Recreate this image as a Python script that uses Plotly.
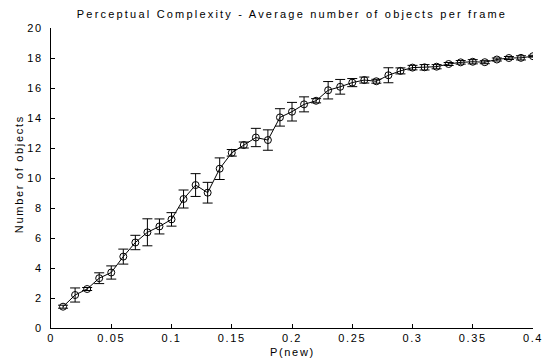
import plotly.graph_objects as go

p_new = [0.01, 0.02, 0.03, 0.04, 0.05, 0.06, 0.07, 0.08, 0.09, 0.10,
         0.11, 0.12, 0.13, 0.14, 0.15, 0.16, 0.17, 0.18, 0.19, 0.20,
         0.21, 0.22, 0.23, 0.24, 0.25, 0.26, 0.27, 0.28, 0.29, 0.30,
         0.31, 0.32, 0.33, 0.34, 0.35, 0.36, 0.37, 0.38, 0.39, 0.40]
avg_objects = [1.42, 2.2, 2.6, 3.32, 3.7, 4.76, 5.7, 6.38, 6.77, 7.24,
               8.6, 9.53, 9.02, 10.62, 11.68, 12.2, 12.7, 12.53, 14.04, 14.42,
               14.91, 15.15, 15.85, 16.08, 16.36, 16.53, 16.45, 16.85, 17.14, 17.36,
               17.38, 17.42, 17.6, 17.71, 17.75, 17.72, 17.9, 18.0, 18.01, 18.12]
err = [0.1, 0.47, 0.1, 0.36, 0.44, 0.5, 0.48, 0.9, 0.5, 0.45,
       0.6, 0.76, 0.69, 0.72, 0.22, 0.2, 0.61, 0.68, 0.58, 0.62,
       0.5, 0.14, 0.58, 0.49, 0.27, 0.2, 0.13, 0.5, 0.2, 0.15,
       0.18, 0.14, 0.1, 0.12, 0.14, 0.1, 0.1, 0.1, 0.14, 0.06]

x_ticks = [0, 0.05, 0.1, 0.15, 0.2, 0.25, 0.3, 0.35, 0.4]
x_tick_labels = ["0", "0.05", "0.1", "0.15", "0.2", "0.25", "0.3", "0.35", "0.4"]
y_ticks = [0, 2, 4, 6, 8, 10, 12, 14, 16, 18, 20]

title_text = "Perceptual Complexity - Average number of objects per frame"
x_title = "P(new)"
y_title = "Number of objects"

fig = go.Figure()
fig.add_trace(go.Scatter(
    x=p_new, y=avg_objects,
    mode="lines+markers",
    line=dict(color="black", width=1),
    marker=dict(symbol="circle-open", size=7, color="black", line=dict(width=1)),
    error_y=dict(type="data", array=err, visible=True, color="black",
                 thickness=1, width=5),
    showlegend=False,
    hoverinfo="skip",
))

font_family = "Liberation Sans, Arial, sans-serif"
fig.update_layout(
    template="none",
    width=543, height=360,
    margin=dict(l=51, r=10, t=28, b=32, autoexpand=False),
    paper_bgcolor="white", plot_bgcolor="white",
    font=dict(family=font_family, size=11, color="black"),
    title=dict(text=title_text, xref="paper", x=0.5, xanchor="center",
               yref="container", y=0.971, yanchor="top",
               font=dict(size=11, family=font_family, color="black")),
    xaxis=dict(range=[0, 0.4], tickvals=x_ticks, ticktext=x_tick_labels,
               showgrid=False, zeroline=False, showline=True, linecolor="black",
               linewidth=1, ticks="inside", ticklen=4, tickcolor="black",
               automargin=False),
    yaxis=dict(range=[0, 20], tickvals=y_ticks,
               showgrid=False, zeroline=False, showline=True, linecolor="black",
               linewidth=1, ticks="inside", ticklen=4, tickcolor="black",
               ticklabelstandoff=5, automargin=False),
    annotations=[
        dict(text=x_title, xref="paper", yref="paper", x=0.5, y=-0.079,
             xanchor="center", yanchor="middle", showarrow=False, borderpad=0,
             font=dict(size=11)),
        dict(text=y_title, xref="paper", yref="paper", x=-0.068, y=0.515,
             xanchor="center", yanchor="middle", textangle=-90, showarrow=False,
             borderpad=0, font=dict(size=11)),
    ],
)

post = """
document.body.style.margin = '0';
document.body.style.padding = '0';
function sp(){
  var gd = document.getElementById('{plot_id}');
  gd.querySelectorAll('.gtitle').forEach(function(t){t.style.letterSpacing='2.2px';});
  gd.querySelectorAll('.xtick text, .ytick text').forEach(function(t){t.style.letterSpacing='1.6px';});
  gd.querySelectorAll('.annotation-text').forEach(function(t){t.style.letterSpacing='1.7px';});
}
sp();
var gdd = document.getElementById('{plot_id}');
if (gdd && gdd.on) { gdd.on('plotly_afterplot', sp); }
"""

fig.write_html("out.html", post_script=post, config={"displayModeBar": False})
